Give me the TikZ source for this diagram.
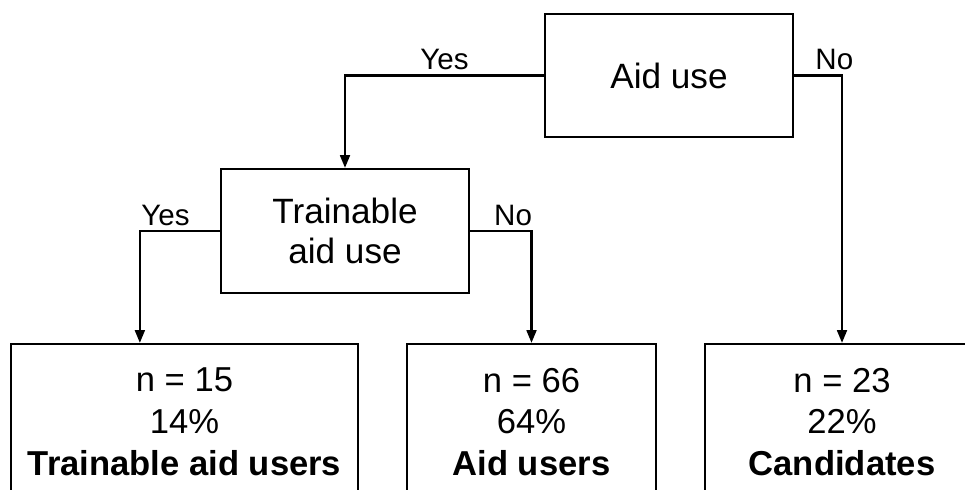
\documentclass[tikz,border=0pt]{standalone}
\usepackage{fontspec}
\setmainfont{Liberation Sans}
\usetikzlibrary{arrows.meta}

\begin{document}
\begin{tikzpicture}[x=0.025cm, y=-0.025cm,
		box/.style={draw, line width=1.6pt, inner sep=0pt, align=center},
		leaf/.style={box, minimum height=3.9cm, font=\fontsize{24.6}{29.8}\selectfont},
		lbl/.style={font=\fontsize{21}{26}\selectfont, inner sep=3pt},
		arr/.style={line width=1.5pt, -{Triangle[length=9pt,width=7pt]}}]
	\useasboundingbox (0,0) rectangle (965,490);
	\clip (0,0) rectangle (965,490);
	
	% decision boxes
	\node[box, minimum width=6.2cm, minimum height=3.08cm, font=\fontsize{25}{28}\selectfont] (aid) at (669,75.5) {Aid use};
	\node[box, minimum width=6.2cm, minimum height=3.1cm, font=\fontsize{25}{28.4}\selectfont] (train) at (345,231) {Trainable\\aid use};
	
	% outcome boxes (cut at the bottom and right)
	\node[leaf, minimum width=8.675cm] (tau) at (184.5,422) {n = 15\\14\%\\\textbf{Trainable aid users}};
	\node[leaf, minimum width=6.225cm] (au) at (531.5,422) {n = 66\\64\%\\\textbf{Aid users}};
	\node[leaf, minimum width=6.85cm] (cand) at (842,422) {n = 23\\22\%\\\textbf{Candidates}};
	
	% branches
	\draw[arr] (aid.west) -| node[lbl, pos=0.25, above] (yesaid) {Yes} (train.north);
	\draw[arr] (aid.east) -| node[lbl, pos=0.42, above] (noaid) {No} (cand.north);
	\draw[arr] (train.west) -| node[lbl, pos=0.34, above] (yestrain) {Yes} ([xshift=3.25cm]tau.north west);
	\draw[arr] (train.east) -| node[lbl, pos=0.35, above] (notrain) {No} (au.north);
\end{tikzpicture}
\end{document}
